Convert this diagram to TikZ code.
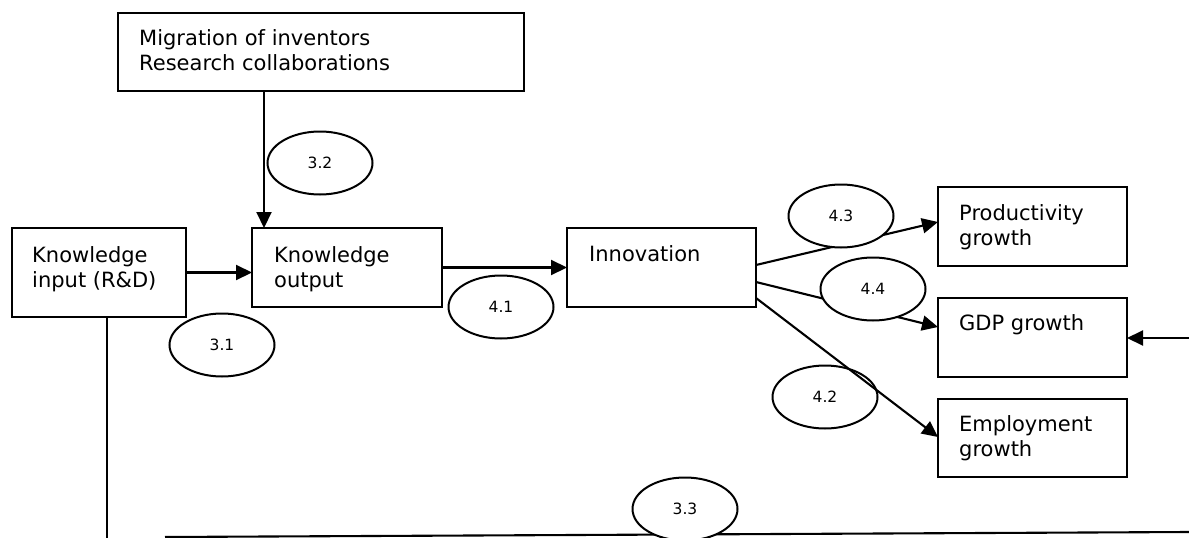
\documentclass[tikz,border=0pt]{standalone}
\usepackage{fontspec}
\setmainfont{DejaVu Sans}
\usetikzlibrary{arrows.meta,shapes.geometric}
\newcommand\twolines[2]{\begin{tabular}[t]{@{}l@{}}#1\\#2\end{tabular}}
\begin{document}
\begin{tikzpicture}[x=1pt,y=-1pt,
  box/.style={draw,line width=2.1pt,inner sep=0pt,outer sep=0pt,anchor=north west},
  lbl/.style={inner sep=0pt,anchor=base west,font=\fontsize{21}{25.5}\selectfont},
  oval/.style={draw,ellipse,fill=white,line width=2pt,inner sep=0pt,
    minimum width=105pt,minimum height=63pt,font=\fontsize{15.5}{18}\selectfont},
  link/.style={line width=2.1pt},
  arr/.style={link,-{Triangle[length=16pt,width=15pt]}}]
\useasboundingbox (0,0) rectangle (1189,538);

% boxes
\node[box,minimum width=406pt,minimum height=78pt] (top) at (118,13) {};
\node[box,minimum width=174pt,minimum height=89pt] (ki) at (12,228) {};
\node[box,minimum width=190pt,minimum height=79pt] (ko) at (252,228) {};
\node[box,minimum width=189pt,minimum height=79pt] (inn) at (567,228) {};
\node[box,minimum width=189pt,minimum height=79pt] (prod) at (938,187) {};
\node[box,minimum width=189pt,minimum height=79pt] (gdp) at (938,298) {};
\node[box,minimum width=189pt,minimum height=78pt] (emp) at (938,399) {};

% box texts
\node[lbl] (toptxt) at ([shift={(21pt,-32pt)}]top.north west)
  {\twolines{Migration of inventors}{Research collaborations}};
\node[lbl] (kitxt) at ([shift={(20pt,-34pt)}]ki.north west)
  {\twolines{Knowledge}{input (R\&D)}};
\node[lbl] (kotxt) at ([shift={(22pt,-34pt)}]ko.north west)
  {\twolines{Knowledge}{output}};
\node[lbl] (inntxt) at ([shift={(22pt,-33pt)}]inn.north west) {Innovation};
\node[lbl] (prodtxt) at ([shift={(21pt,-33pt)}]prod.north west)
  {\twolines{Productivity}{growth}};
\node[lbl] (gdptxt) at ([shift={(21pt,-32pt)}]gdp.north west) {GDP growth};
\node[lbl] (emptxt) at ([shift={(21pt,-32pt)}]emp.north west)
  {\twolines{Employment}{growth}};

% free ends of the outer lines
\coordinate (rin) at (1189,338);
\coordinate (kibot) at (107,538);
\coordinate (bl) at (165,537);
\coordinate (br) at (1189,532);

% the 4.2 oval lies under its connector
\node[oval] (e42) at (825,397) {4.2};

% connectors
\draw[arr] (264,0 |- top.south) -- (264,0 |- ko.north);
\draw[arr] (ki.east) -- (ki.east -| ko.west);
\draw[arr] (ko.east) -- (inn.west);
\draw[arr] ([yshift=-37pt]inn.north east) -- ([yshift=-35pt]prod.north west);
\draw[arr] ([yshift=-54pt]inn.north east) -- ([yshift=-29pt]gdp.north west);
\draw[arr] ([yshift=-70pt]inn.north east) -- ([yshift=-38pt]emp.north west);
\draw[arr] (rin) -- (rin -| gdp.east);
\draw[link] (107,0 |- ki.south) -- (kibot);
\draw[link] (bl) -- (br);

% ovals
\node[oval] (e32) at (320,163) {3.2};
\node[oval] (e31) at (222,345) {3.1};
\node[oval] (e41) at (501,307) {4.1};
\node[oval] (e43) at (841,216) {4.3};
\node[oval] (e44) at (873,289) {4.4};
\node[oval] (e33) at (685,509) {3.3};
\end{tikzpicture}
\end{document}
